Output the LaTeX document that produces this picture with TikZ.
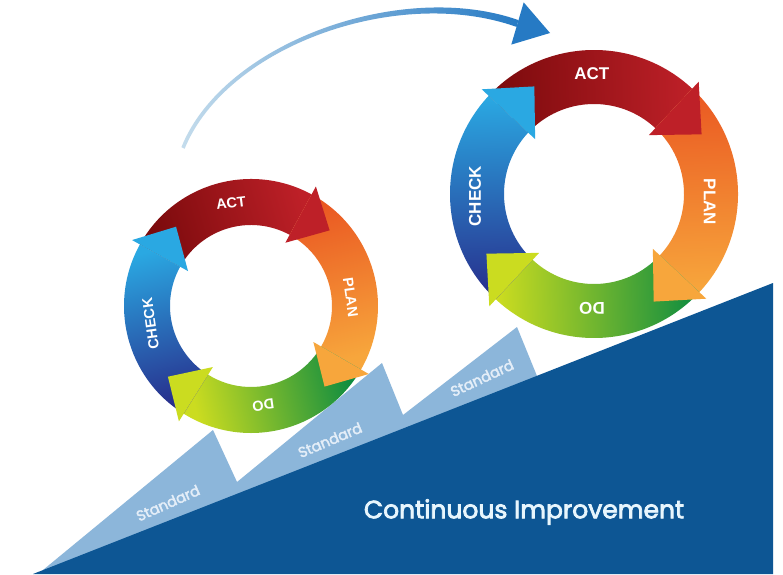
\documentclass[tikz,border=0pt]{standalone}
\usepackage{fontspec}
\setmainfont{Liberation Sans}
\newfontfamily\popfont[FakeBold=3]{Poppins}
\newfontfamily\popfontb[FakeBold=2.5]{Poppins}
\usetikzlibrary{calc}
\definecolor{deepblue}{RGB}{13,86,148}
\definecolor{paleblue}{RGB}{140,182,218}
\definecolor{actA}{RGB}{122,10,12}
\definecolor{actB}{RGB}{190,32,40}
\definecolor{planA}{RGB}{234,88,34}
\definecolor{planB}{RGB}{247,166,60}
\definecolor{doA}{RGB}{14,140,64}
\definecolor{doB}{RGB}{203,220,32}
\definecolor{chkA}{RGB}{40,46,140}
\definecolor{chkB}{RGB}{42,168,226}
\definecolor{arcA}{RGB}{196,220,236}
\definecolor{arcB}{RGB}{38,122,196}
\definecolor{stdtext}{RGB}{228,238,248}
\definecolor{citext}{RGB}{232,246,253}

% ring body: tail angle, head angle, tail colour, head colour, outer r, inner r
\newcommand{\pdcabody}[6]{%
  \pgfmathsetmacro{\pdcamid}{(#1+#2)/2}%
  \shade[top color=#3, bottom color=#4, shading angle=\pdcamid]
    (#1:#5pt) arc[start angle=#1, end angle=#2, radius=#5pt]
    -- (#2:#6pt) arc[start angle=#2, end angle=#1, radius=#6pt] -- cycle;}
% ring head: angle, mid r, half width, length, colour
\newcommand{\pdcahead}[5]{%
  \pgfmathsetmacro{\pdcaro}{#2+#3}%
  \pgfmathsetmacro{\pdcari}{#2-#3}%
  \pgfmathsetmacro{\pdcata}{#1-90}%
  \fill[#5] (#1:\pdcaro pt) -- ($(#1:#2pt)+(\pdcata:#4pt)$) -- (#1:\pdcari pt) -- cycle;}

\begin{document}
\begin{tikzpicture}[x=1pt,y=1pt,
  labR/.style={text=white, font=\bfseries\fontsize{17}{17}\selectfont, inner sep=0pt},
  labL/.style={text=white, font=\bfseries\fontsize{14.5}{14.5}\selectfont, inner sep=0pt},
  stdlab/.style={text=stdtext, font=\popfontb\fontsize{14.5}{14.5}\selectfont, inner sep=0pt},
  cilab/.style={text=citext, font=\popfont\fontsize{25}{25}\selectfont, inner sep=0pt}]
\useasboundingbox (0,0) rectangle (783,574);
\fill[white] (0,0) rectangle (783,574);

% steps of the standard
\fill[paleblue] (43,4) -- (213,144) -- (237,92) -- (382,211) -- (403,159)
  -- (517,247) -- (537,198) -- (537,150) -- (50,0) -- cycle;
% improvement slope
\fill[deepblue] (33,0) -- (773,291) -- (773,0) -- cycle;

\node[stdlab, rotate=24] (std1) at (168,71) {Standard};
\node[stdlab, rotate=23] (std2) at (330,134) {Standard};
\node[stdlab, rotate=25] (std3) at (482,196) {Standard};
\node[cilab] (ci) at (524,62) {Continuous Improvement};

% big arc arrow
\coordinate (arcS) at (183,426);
\coordinate (arcE) at (550,541);
\shade[left color=arcA, right color=arcB]
  (181.4,426.8) .. controls (223,531.1) and (400.9,595.1) .. (518.5,553.9)
  -- (516.5,547.1) .. controls (399.1,588.9) and (227,528.9) .. (184.6,425.2) -- cycle;
\fill[arcB] (523.7,571.6) -- (arcE) -- (511.3,529.4) -- cycle;

% left PDCA ring
\begin{scope}[shift={(251,268)}]
  \pdcabody{151}{61.5}{actA}{actB}{127}{81}
  \pdcabody{61.5}{-30}{planA}{planB}{127}{81}
  \pdcabody{-30}{-122}{doA}{doB}{127}{81}
  \pdcabody{-122}{-209}{chkA}{chkB}{127}{81}
  \pdcahead{61.5}{104}{32}{33}{actB}
  \pdcahead{-30}{104}{32}{33}{planB}
  \pdcahead{-122}{104}{32}{33}{doB}
  \pdcahead{151}{104}{32}{33}{chkB}
  \node[labL, rotate=7] (lact) at (101:105) {ACT};
  \node[labL, rotate=-82] (lplan) at (5:100) {PLAN};
  \node[labL, rotate=-172] (ldo) at (-83:100) {DO};
  \node[labL, rotate=98] (lchk) at (190:102) {CHECK};
\end{scope}

% right PDCA ring
\begin{scope}[shift={(594,380)}]
  \pdcabody{137}{47}{actA}{actB}{144}{90}
  \pdcabody{47}{-43}{planA}{planB}{144}{90}
  \pdcabody{-43}{-133}{doA}{doB}{144}{90}
  \pdcabody{-133}{-223}{chkA}{chkB}{144}{90}
  \pdcahead{47}{117}{36.5}{38}{actB}
  \pdcahead{-43}{117}{36.5}{38}{planB}
  \pdcahead{-133}{117}{36.5}{38}{doB}
  \pdcahead{137}{117}{36.5}{38}{chkB}
  \node[labR] (ract) at (91:120) {ACT};
  \node[labR, rotate=-90] (rplan) at (-4:116) {PLAN};
  \node[labR, rotate=180] (rdo) at (-91:114) {DO};
  \node[labR, rotate=90] (rchk) at (181:119) {CHECK};
\end{scope}
\end{tikzpicture}
\end{document}
